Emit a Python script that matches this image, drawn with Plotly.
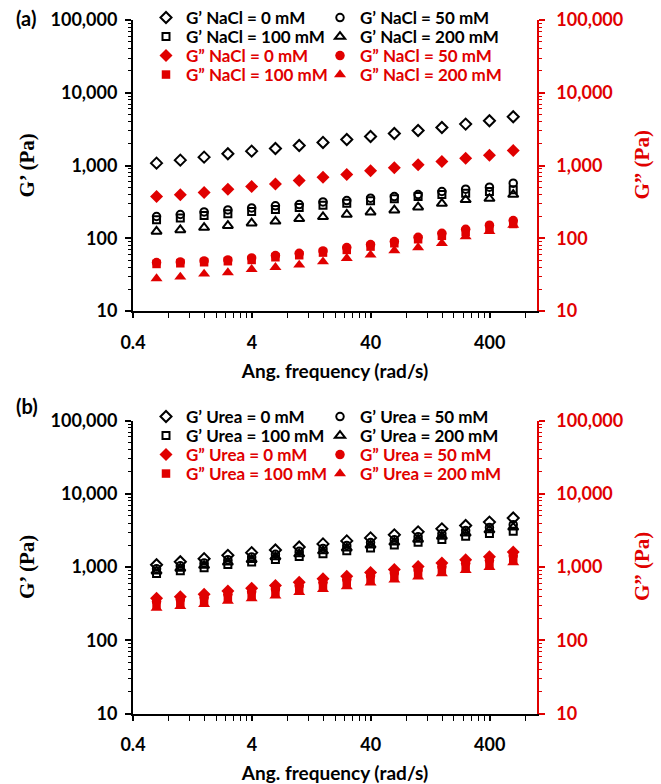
import plotly.graph_objects as go
import math

# ---------------- data ----------------
freq = [0.631, 1.0, 1.585, 2.512, 3.981, 6.310, 10.0, 15.85, 25.12, 39.81,
        63.10, 100.0, 158.5, 251.2, 398.1, 631.0]

# Panel (a) NaCl
gp_nacl_0 = [1077, 1184, 1303, 1448, 1575, 1714, 1885, 2075, 2280, 2507, 2757, 3032, 3333, 3705, 4120, 4677]
gp_nacl_50 = [199, 212, 230, 245, 261, 279, 290, 316, 330, 355, 374, 399, 439, 472, 503, 571]
gp_nacl_100 = [179, 190, 205, 218, 233, 248, 264, 284, 303, 327, 348, 374, 399, 416, 439, 463]
gp_nacl_200 = [124, 130, 140, 149, 161, 171, 185, 197, 212, 228, 243, 267, 300, 337, 351, 399]
gpp_nacl_0 = [374, 395, 425, 472, 514, 559, 622, 691, 752, 845, 929, 1021, 1135, 1262, 1387, 1607]
gpp_nacl_50 = [46.3, 47.3, 48.8, 50.3, 53.6, 57.7, 62.2, 67.0, 74.4, 81.8, 90.0, 103, 117, 133, 151, 175]
gpp_nacl_100 = [44.3, 45.3, 46.8, 48.3, 50.3, 54.8, 58.4, 63.5, 69.1, 76.8, 85.3, 96.9, 108, 122, 137, 157]
gpp_nacl_200 = [27.9, 29.4, 32.3, 33.7, 37.4, 39.9, 43.0, 47.7, 53.1, 59.0, 67.6, 74.4, 85.3, 105, 124, 152]

# Panel (b) Urea
gp_urea_0 = [1077, 1184, 1303, 1448, 1575, 1714, 1885, 2075, 2280, 2507, 2757, 3032, 3333, 3705, 4120, 4677]
gp_urea_50 = [950, 1040, 1140, 1265, 1375, 1495, 1640, 1800, 1975, 2160, 2370, 2600, 2850, 3150, 3480, 3800]
gp_urea_100 = [820, 895, 980, 1085, 1175, 1275, 1395, 1525, 1670, 1830, 2000, 2190, 2390, 2630, 2880, 3100]
gp_urea_200 = [880, 960, 1050, 1165, 1265, 1375, 1510, 1655, 1815, 1990, 2180, 2390, 2620, 2900, 3200, 3500]
gpp_urea_0 = [374, 395, 425, 472, 514, 559, 622, 691, 752, 845, 929, 1021, 1135, 1262, 1387, 1607]
gpp_urea_50 = [340, 360, 385, 425, 462, 503, 558, 620, 675, 758, 832, 915, 1015, 1128, 1238, 1430]
gpp_urea_100 = [305, 322, 345, 380, 413, 450, 500, 553, 603, 677, 743, 817, 905, 1005, 1105, 1270]
gpp_urea_200 = [275, 290, 310, 342, 372, 405, 450, 498, 543, 610, 668, 735, 815, 905, 995, 1150]

x_tickvals = [0.4, 4, 40, 400]
x_ticktext = ["0.4", "4", "40", "400"]
y_tickvals = [10, 100, 1000, 10000, 100000]
y_ticktext = ["10", "100", "1,000", "10,000", "100,000"]

panel_labels = ["(a)", "(b)"]
x_title = "Ang. frequency (rad/s)"
left_title = "G’ (Pa)"
right_title = "G” (Pa)"

# ---------------- styling ----------------
W, H = 661, 784
RED = "#E00000"
BLACK = "#000000"
SANS = "Lato"
SERIF = "Liberation Serif"

def px_x(px):
    return px / W

def px_y(py):
    return 1 - py / H

plot_left, plot_right = 133, 537
panel_top = [20, 420.7]
panel_bottom = [311, 713.5]

x_minor = [b * k for b in [0.4, 4, 40, 400] for k in range(2, 10) if b * k <= 1000]
y_minor = [k * 10 ** n for n in range(1, 5) for k in range(2, 10)]

fig = go.Figure()

series_specs = [
    ("G’ {s} = 0 mM", "diamond-open", 8.5, BLACK, False),
    ("G’ {s} = 50 mM", "circle-open", 7.5, BLACK, False),
    ("G’ {s} = 100 mM", "square-open", 7, BLACK, False),
    ("G’ {s} = 200 mM", "triangle-up-open", 9, BLACK, False),
    ("G” {s} = 0 mM", "diamond", 10, RED, True),
    ("G” {s} = 50 mM", "circle", 9.5, RED, True),
    ("G” {s} = 100 mM", "square", 8.5, RED, True),
    ("G” {s} = 200 mM", "triangle-up", 10.5, RED, True),
]
panel_data = [
    ("NaCl", [gp_nacl_0, gp_nacl_50, gp_nacl_100, gp_nacl_200,
              gpp_nacl_0, gpp_nacl_50, gpp_nacl_100, gpp_nacl_200]),
    ("Urea", [gp_urea_0, gp_urea_50, gp_urea_100, gp_urea_200,
              gpp_urea_0, gpp_urea_50, gpp_urea_100, gpp_urea_200]),
]

legend_rows = [[18, 37, 56, 75], [417, 436, 455, 474]]
legend_cols = [146, 320]

layout_legends = {}
for p, (salt, series) in enumerate(panel_data):
    xa = "x" if p == 0 else "x2"
    for i, (label, sym, size, color, is_gpp) in enumerate(series_specs):
        n = p * 8 + i + 1
        lname = "legend" if n == 1 else f"legend{n}"
        if is_gpp:
            ya = "y2" if p == 0 else "y4"
        else:
            ya = "y" if p == 0 else "y3"
        marker = dict(symbol=sym, size=size, color=color)
        if sym.endswith("-open"):
            marker["line"] = dict(color=color, width=2)
        fig.add_trace(go.Scatter(
            x=freq, y=series[i], mode="markers", name=label.format(s=salt),
            marker=marker, xaxis=xa, yaxis=ya, legend=lname, showlegend=True,
        ))
        row, col = i // 2, i % 2
        layout_legends[lname] = dict(
            x=px_x(legend_cols[col]), y=px_y(legend_rows[p][row]),
            xanchor="left", yanchor="middle", bgcolor="rgba(0,0,0,0)",
            font=dict(family=SANS, size=17, color=color, weight="bold"),
            itemwidth=30, borderwidth=0,
        )

def xaxis_cfg(p):
    return dict(
        type="log", range=[math.log10(0.4), math.log10(1000)],
        domain=[px_x(plot_left), px_x(plot_right)],
        anchor="y" if p == 0 else "y3",
        showline=True, linecolor=BLACK, linewidth=2, mirror=False,
        ticks="outside", ticklen=5, tickwidth=1.5, tickcolor=BLACK,
        tickmode="array", tickvals=x_tickvals, ticktext=x_ticktext,
        minor=dict(tickmode="array", tickvals=x_minor, ticks="outside",
                   ticklen=5, tickwidth=1.2, tickcolor=BLACK, showgrid=False),
        tickfont=dict(family=SANS, size=18, color=BLACK, weight="bold"),
        ticklabelstandoff=9,
        showgrid=False, zeroline=False,
        title=dict(text=x_title, font=dict(family=SANS, size=19, color=BLACK, weight="bold"),
                   standoff=13),
    )

def yaxis_cfg(p, right):
    c = RED if right else BLACK
    d = dict(
        type="log", range=[1, 5],
        showline=True, linecolor=c, linewidth=1.5 if right else 2,
        ticks="outside", ticklen=6, tickwidth=1.5, tickcolor=c,
        tickmode="array", tickvals=y_tickvals, ticktext=y_ticktext,
        minor=dict(tickmode="array", tickvals=y_minor, ticks="outside",
                   ticklen=3, tickwidth=1, tickcolor=c, showgrid=False),
        tickfont=dict(family=SANS, size=18, color=c, weight="bold"),
        showgrid=False, zeroline=False,
        ticklabelstandoff=8 if right else 4,
    )
    if right:
        d.update(overlaying="y" if p == 0 else "y3", side="right",
                 anchor="x" if p == 0 else "x2")
    else:
        d.update(domain=[px_y(panel_bottom[p]), px_y(panel_top[p])],
                 anchor="x" if p == 0 else "x2", side="left")
    return d

annotations = []
for p in range(2):
    yc = (panel_top[p] + panel_bottom[p]) / 2
    annotations.append(dict(text=left_title, x=px_x(27), y=px_y(yc), xref="paper", yref="paper",
                            textangle=-90, showarrow=False, xanchor="center", yanchor="middle",
                            font=dict(family=SERIF, size=21, color=BLACK, weight="bold")))
    annotations.append(dict(text=right_title, x=px_x(642), y=px_y(yc), xref="paper", yref="paper",
                            textangle=-90, showarrow=False, xanchor="center", yanchor="middle",
                            font=dict(family=SERIF, size=21, color=RED, weight="bold")))
annotations.append(dict(text=panel_labels[0], x=px_x(14), y=px_y(18), xref="paper", yref="paper",
                        showarrow=False, xanchor="left", yanchor="middle",
                        font=dict(family=SANS, size=20, color=BLACK, weight="bold")))
annotations.append(dict(text=panel_labels[1], x=px_x(14), y=px_y(406), xref="paper", yref="paper",
                        showarrow=False, xanchor="left", yanchor="middle",
                        font=dict(family=SANS, size=20, color=BLACK, weight="bold")))

fig.update_layout(
    width=W, height=H, margin=dict(l=0, r=0, t=0, b=0, pad=0, autoexpand=False),
    paper_bgcolor="white", plot_bgcolor="white",
    xaxis=xaxis_cfg(0), xaxis2=xaxis_cfg(1),
    yaxis=yaxis_cfg(0, False), yaxis2=yaxis_cfg(0, True),
    yaxis3=yaxis_cfg(1, False), yaxis4=yaxis_cfg(1, True),
    annotations=annotations,
    showlegend=True,
    **layout_legends,
)

fig.write_html(
    "out.html",
    config={"displayModeBar": False},
    post_script="document.body.style.margin='0px';document.body.style.overflow='hidden';",
)
